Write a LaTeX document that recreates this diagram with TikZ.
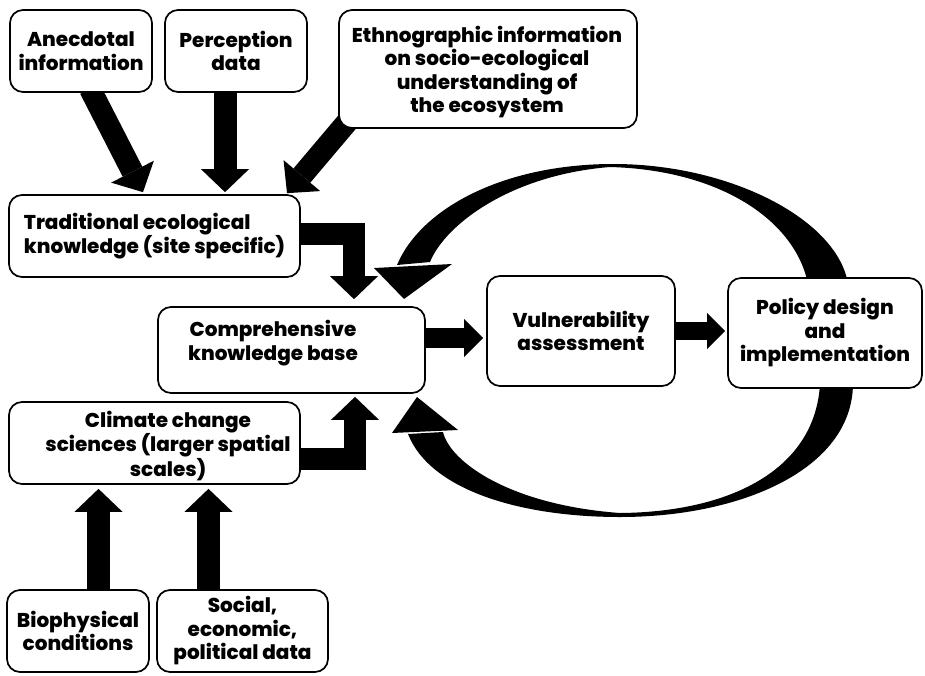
\documentclass[tikz,border=0pt]{standalone}
\usepackage{fontspec}
\setmainfont{Poppins}[BoldFont={Poppins ExtraBold}]
\usetikzlibrary{arrows.meta,backgrounds,calc}
\begin{document}
\begin{tikzpicture}[x=1pt,y=-1pt,
  box/.style={draw,line width=1.7pt,rounded corners=13pt,fill=white,align=center,
    font=\fontsize{20}{23.5}\selectfont\bfseries,inner sep=0pt},
  txt/.style={align=center,font=\fontsize{20}{23.5}\selectfont\bfseries,inner sep=0pt},
  blk/.style={line width=23pt,black,line join=miter,
    -{Triangle[width=48pt,length=23pt,line width=0pt]}},
  sblk/.style={line width=20pt,black,
    -{Triangle[width=38pt,length=19pt,line width=0pt]}}]
\useasboundingbox (0,0) rectangle (925,675);

% boxes
\node[box,minimum width=142pt,minimum height=82pt] (anec) at (81,51) {Anecdotal\\information};
\node[box,minimum width=142pt,minimum height=82pt] (perc) at (236,51) {Perception\\data};
\node[box,minimum width=298pt,minimum height=118pt] (ethno) at (488,69) {};
\node[txt] (ethnot) at (487,72)
  {Ethnographic information\\on socio-ecological\\understanding of\\the ecosystem};
\node[box,minimum width=291pt,minimum height=82pt,align=left] (trad) at (154.5,236)
  {Traditional ecological\\knowledge (site specific)};
\node[box,minimum width=267pt,minimum height=86pt] (comp) at (291.5,350) {};
\node[txt] (compt) at (273,343) {Comprehensive\\knowledge base};
\node[box,minimum width=291pt,minimum height=82pt] (clim) at (154.5,443) {};
\node[txt] (climt) at (168,446) {Climate change\\sciences (larger spatial\\scales)};
\node[box,minimum width=188pt,minimum height=110pt] (vuln) at (581,331) {Vulnerability\\assessment};
\node[box,minimum width=194pt,minimum height=110pt] (pol) at (825,333) {Policy design\\and\\implementation};
\node[box,minimum width=142pt,minimum height=82pt] (bio) at (78,631) {Biophysical\\conditions};
\node[box,minimum width=171pt,minimum height=82pt] (soc) at (242.5,631) {Social,\\economic,\\political data};

\begin{scope}[on background layer]
% straight inputs
\draw[blk,line width=22pt] ($(anec.south)+(9,-4)$) -- ($(trad.north)+(-11.5,-2)$);
\draw[blk] ($(perc.south)+(-11,-4)$) -- ($(trad.north)+(70.5,-2)$);
\draw[blk,line width=22pt] ($(ethno.south west)+(10,-8)$) -- ($(trad.north)+(132.5,-1)$);
% elbows
\draw[blk,line width=22pt] ($(trad.east)+(-4,-2)$) -| ($(comp.north)+(62.5,-7)$);
\draw[blk,line width=22pt] ($(clim.east)+(-4,15.5)$) -| ($(comp.south)+(63.5,3)$);
% bottom inputs
\draw[blk] ($(bio.north)+(20.5,4)$) -- ($(clim.south)+(-56,4)$);
\draw[blk] ($(soc.north)+(-34,4)$) -- ($(clim.south)+(54,4)$);
% horizontal
\draw[sblk] ($(comp.east)+(-4,-12)$) -- ($(vuln.west)+(-3,7)$);
\draw[sblk,line width=18pt,-{Triangle[width=36pt,length=18pt,line width=0pt]}]
  ($(vuln.east)+(-4,0)$) -- ($(pol.west)+(-2,-2)$);
% top feedback arrow (crescent)
\fill (848,284) .. controls (838,220) and (730,163) .. (610,164)
  .. controls (500,165) and (420,210) .. (397,265)
  -- (430,262) .. controls (445,225) and (510,175) .. (610,167)
  .. controls (720,170) and (795,220) .. (808,284) -- cycle;
% bottom feedback arrow (crescent)
\fill (853,384) .. controls (852,470) and (740,517) .. (620,517)
  .. controls (520,517) and (430,490) .. (408,434)
  -- (443,432) .. controls (450,462) and (510,505) .. (620,513)
  .. controls (730,512) and (815,470) .. (820,384) -- cycle;
\end{scope}
% arrow heads of feedback arrows
\coordinate (tiptop) at (404,299);
\coordinate (tipbot) at (417,397);
\fill (374,268) -- (452,264) -- (tiptop) -- cycle;
\fill (392,433) -- (458,430) -- (tipbot) -- cycle;
\end{tikzpicture}
\end{document}
